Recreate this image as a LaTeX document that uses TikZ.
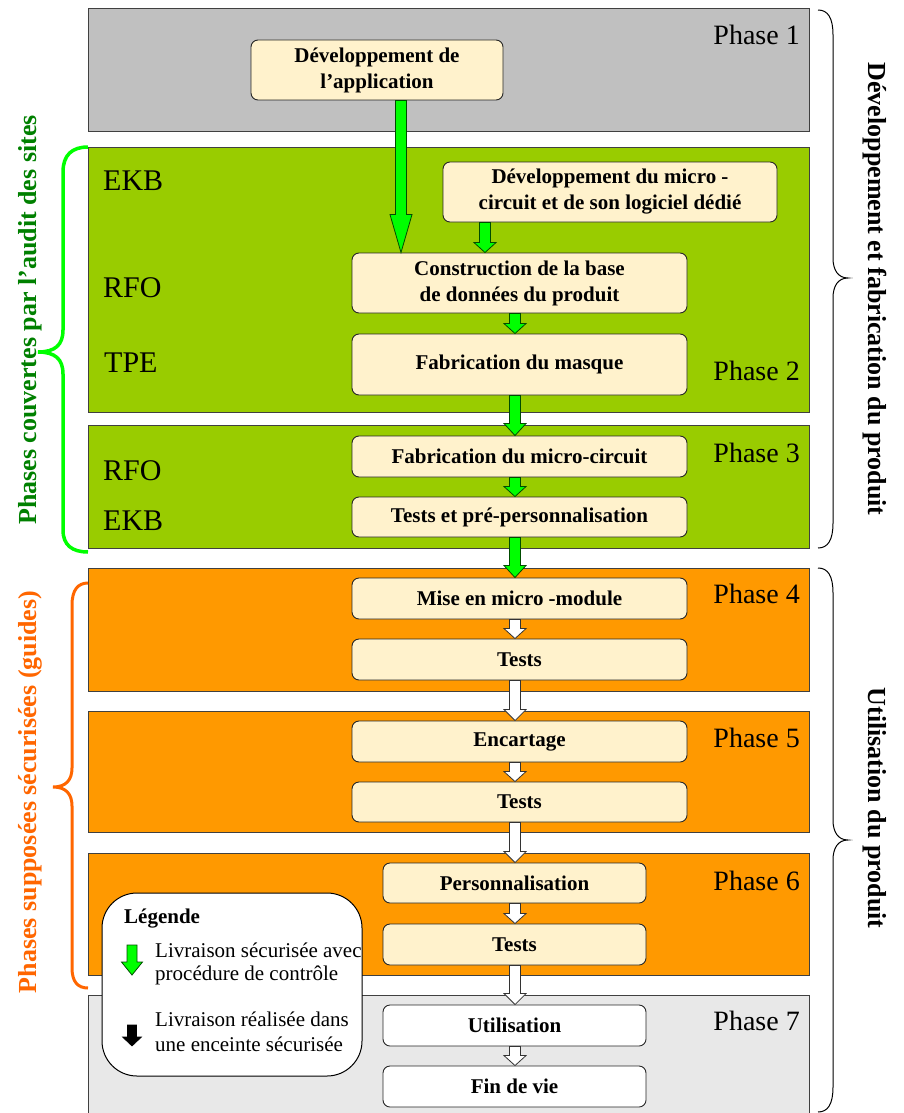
\documentclass[tikz,border=0pt]{standalone}
\usepackage{fontspec}
\setmainfont{Liberation Serif}
\usetikzlibrary{calc}
\definecolor{pgray}{HTML}{C0C0C0}
\definecolor{pgreen}{HTML}{99CC00}
\definecolor{porange}{HTML}{FF9900}
\definecolor{plight}{HTML}{E8E8E8}
\definecolor{boxfill}{HTML}{FFF2CC}
\definecolor{agreen}{HTML}{00FF00}
\definecolor{tgreen}{HTML}{008000}
\definecolor{torange}{HTML}{FF6600}
\newcommand\myboxfont{\fontsize{21}{26}\selectfont\bfseries}
\newcommand\myphasefont{\fontsize{28}{32}\selectfont}
\newcommand\mysitefont{\fontsize{30}{34}\selectfont}
\newcommand\mysidefont{\fontsize{26}{30}\selectfont\bfseries}
\newcommand\mylegfont{\fontsize{21}{25}\selectfont}
\newcommand\fatarrow[4]{%
  \path[#1] let \p1=(#2), \p2=(#3) in
    (\x1-5.5pt,\y1) -- (\x1+5.5pt,\y1) -- (\x1+5.5pt,\y2+#4) -- (\x1+11pt,\y2+#4)
    -- (\x1,\y2) -- (\x1-11pt,\y2+#4) -- (\x1-5.5pt,\y2+#4) -- cycle;
}
\tikzset{
  panel/.style={draw=black!75, line width=1pt, inner sep=0pt, minimum width=721pt},
  box/.style={draw=black!85, line width=0.9pt, rounded corners=7pt, fill=boxfill,
    inner sep=0pt, align=center, font=\myboxfont},
  wbox/.style={box, fill=white},
  phase/.style={anchor=base east, font=\myphasefont, inner sep=0pt},
  site/.style={anchor=base west, font=\mysitefont, inner sep=0pt},
  garrow/.style={fill=agreen, draw=green!30!black, line width=0.8pt},
  warrow/.style={fill=white, draw=black!80, line width=0.8pt},
  rbrace/.style={draw=black, line width=1pt},
  legtext/.style={anchor=base west, font=\mylegfont, inner sep=0pt},
}
\begin{document}
\begin{tikzpicture}[x=1pt,y=-1pt]
\useasboundingbox (0,0) rectangle (903,1113);
% panels
\node[panel, fill=pgray,   minimum height=123pt] (p1) at (448.5,70.5) {};
\node[panel, fill=pgreen,  minimum height=265pt] (p2) at (448.5,279.5) {};
\node[panel, fill=pgreen,  minimum height=123pt] (p3) at (448.5,486.5) {};
\node[panel, fill=porange, minimum height=123pt] (p4) at (448.5,629.5) {};
\node[panel, fill=porange, minimum height=121pt] (p5) at (448.5,771.5) {};
\node[panel, fill=porange, minimum height=122pt] (p6) at (448.5,914) {};
\node[panel, fill=plight,  minimum height=135pt] (p7) at (448.5,1062.5) {};
% phase labels
\node[phase] (ph1) at (800,45) {Phase 1};
\node[phase] (ph2) at (800,380) {Phase 2};
\node[phase] (ph3) at (800,462) {Phase 3};
\node[phase] (ph4) at (800,603) {Phase 4};
\node[phase] (ph5) at (800,747) {Phase 5};
\node[phase] (ph6) at (800,890) {Phase 6};
\node[phase] (ph7) at (800,1030) {Phase 7};
% site labels
\node[site] (s1) at (103,190) {EKB};
\node[site] (s2) at (103,297) {RFO};
\node[site] (s3) at (104,372) {TPE};
\node[site] (s4) at (103,480) {RFO};
\node[site] (s5) at (103,530) {EKB};
% boxes
\node[box, minimum width=252pt, minimum height=60pt] (app) at (377,70) {Développement de\\l’application};
\node[box, minimum width=334pt, minimum height=60pt] (micro) at (610,192) {Développement du micro -\\circuit et de son logiciel dédié};
\node[box, minimum width=335pt, minimum height=60pt] (cons) at (519.5,283) {Construction de la base\\de données du produit};
\node[box, minimum width=335pt, minimum height=61pt] (masque) at (519.5,364.5) {Fabrication du masque};
\node[box, minimum width=335pt, minimum height=41pt] (fabmc) at (519.5,456.5) {Fabrication du micro-circuit};
\node[box, minimum width=335pt, minimum height=40pt] (tpp) at (519.5,517) {Tests et pré-personnalisation};
\node[box, minimum width=335pt, minimum height=41pt] (mise) at (519.5,598.5) {Mise en micro -module};
\node[box, minimum width=335pt, minimum height=41pt] (t4) at (519.5,659.5) {Tests};
\node[box, minimum width=335pt, minimum height=41pt] (enc) at (519.5,741.5) {Encartage};
\node[box, minimum width=335pt, minimum height=40pt] (t5) at (519.5,802) {Tests};
\node[box, minimum width=263pt, minimum height=40pt] (perso) at (514.5,883) {Personnalisation};
\node[box, minimum width=263pt, minimum height=41pt] (t6) at (514.5,944.5) {Tests};
\node[wbox, minimum width=263pt, minimum height=41pt] (util) at (514.5,1025.5) {Utilisation};
\node[wbox, minimum width=263pt, minimum height=41pt] (fin) at (514.5,1086.5) {Fin de vie};
% arrows
\coordinate (xa) at (401,0);
\coordinate (xb) at (485,0);
\coordinate (xc) at (515,0);
\fatarrow{garrow}{app.south -| xa}{cons.north -| xa}{38pt}
\fatarrow{garrow}{micro.south -| xb}{cons.north -| xb}{10pt}
\fatarrow{garrow}{cons.south -| xc}{masque.north -| xc}{10pt}
\fatarrow{garrow}{masque.south -| xc}{fabmc.north -| xc}{12pt}
\fatarrow{garrow}{fabmc.south -| xc}{tpp.north -| xc}{10pt}
\fatarrow{garrow}{tpp.south -| xc}{mise.north -| xc}{12pt}
\fatarrow{warrow}{mise.south -| xc}{t4.north -| xc}{10pt}
\fatarrow{warrow}{t4.south -| xc}{enc.north -| xc}{11pt}
\fatarrow{warrow}{enc.south -| xc}{t5.north -| xc}{10pt}
\fatarrow{warrow}{t5.south -| xc}{perso.north -| xc}{11pt}
\fatarrow{warrow}{perso.south -| xc}{t6.north -| xc}{10pt}
\fatarrow{warrow}{t6.south -| xc}{util.north -| xc}{11pt}
\fatarrow{warrow}{util.south -| xc}{fin.north -| xc}{10pt}
% legend
\node[draw=black, line width=1pt, fill=white, rounded corners=35pt, minimum width=260pt,
  minimum height=183pt, inner sep=0pt] (leg) at (232,984.5) {};
\begin{scope}
\clip[rounded corners=35pt] (leg.north west) rectangle (leg.south east);
\node[legtext, font=\mylegfont\bfseries] (legt) at (124,923) {Légende};
\node[legtext] (l1) at (155,957) {Livraison sécurisée avec};
\node[legtext] (l2) at (155,980) {procédure de contrôle};
\node[legtext] (l3) at (155,1026) {Livraison réalisée dans};
\node[legtext] (l4) at (155,1051) {une enceinte sécurisée};
\end{scope}
\path[garrow] (127,945) -- (137,945) -- (137,962) -- (142.5,962) -- (132,975) -- (121.5,962) -- (127,962) -- cycle;
\path[fill=black, draw=black, line width=0.6pt] (127.5,1025) -- (136.5,1025) -- (136.5,1037) -- (141.5,1037) -- (132,1046) -- (122.5,1037) -- (127.5,1037) -- cycle;
% right braces
\draw[rbrace] (818,10) .. controls (828,10) and (833,18) .. (833,35) -- (833,258)
  .. controls (833,270) and (838,278) .. (848,278) .. controls (838,278) and (833,286) .. (833,298)
  -- (833,523) .. controls (833,540) and (828,548) .. (818,548);
\draw[rbrace] (818,568) .. controls (828,568) and (833,576) .. (833,593) -- (833,820)
  .. controls (833,832) and (838,840) .. (848,840) .. controls (838,840) and (833,848) .. (833,860)
  -- (833,1087) .. controls (833,1104) and (828,1112) .. (818,1112);
\node[font=\mysidefont, rotate=-90, anchor=base, inner sep=0pt] (rt1) at (868,289) {Développement et fabrication du produit};
\node[font=\mysidefont, rotate=-90, anchor=base, inner sep=0pt] (rt2) at (868,808) {Utilisation du produit};
% left braces
\draw[agreen, line width=3.5pt] (88,147) .. controls (72,147) and (63,155) .. (63,172) -- (63,330)
  .. controls (63,345) and (55,352) .. (38,352) .. controls (55,352) and (63,359) .. (63,374)
  -- (63,530) .. controls (63,545) and (72,552) .. (88,552);
\draw[torange, line width=3pt] (88,583) .. controls (78,583) and (72,590) .. (72,605) -- (72,768)
  .. controls (72,780) and (66,787) .. (53,787) .. controls (66,787) and (72,794) .. (72,806)
  -- (72,968) .. controls (72,982) and (78,988) .. (88,988);
\node[font=\mysidefont, text=tgreen, rotate=90, anchor=base, inner sep=0pt] (lt1) at (36,320) {Phases couvertes par l’audit des sites};
\node[font=\mysidefont, text=torange, rotate=90, anchor=base, inner sep=0pt] (lt2) at (36,792) {Phases supposées sécurisées (guides)};
\end{tikzpicture}
\end{document}
